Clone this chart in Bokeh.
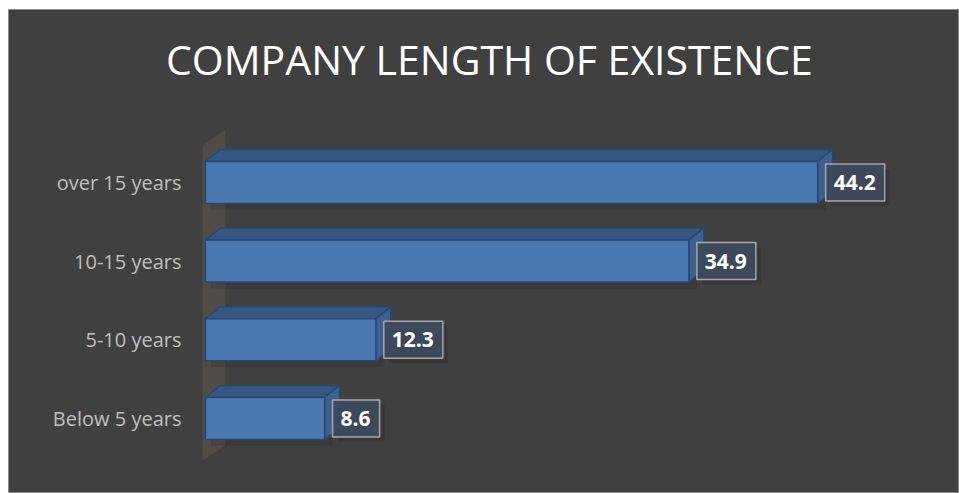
from bokeh.plotting import figure
from bokeh.models import Range1d
from bokeh.core.properties import value
from bokeh.embed import file_html
from bokeh.resources import INLINE

# ---- data ----
categories = ["Below 5 years", "5-10 years", "10-15 years", "over 15 years"]
values = [8.6, 12.3, 34.9, 44.2]
labels = ["8.6", "12.3", "34.9", "44.2"]
title_text = "COMPANY LENGTH OF EXISTENCE"

# ---- style constants ----
BAR_H = 0.534
DX = 1.08     # 3D depth in x (data units)
DY = 0.152    # 3D depth in y (data units)
FRONT = "#4a78b0"
TOP = "#375783"
SIDE = "#3c6090"
EDGE = "#2a4772"
PAD = dict(left=8, right=9, top=11, bottom=11)

p = figure(width=959, height=493, output_backend="svg", toolbar_location=None,
           x_range=Range1d(-14.22, 54.44), y_range=Range1d(-0.953, 5.197),
           x_axis_location=None, y_axis_location=None,
           min_border_left=8, min_border_top=9, min_border_right=0, min_border_bottom=0)
p.grid.visible = False
p.background_fill_color = "#404040"
p.border_fill_color = "white"
p.outline_line_color = "#8c8c8c"
p.outline_line_width = 1

ys = list(range(len(categories)))

# back wall
p.patch(x=[-0.22, -0.22, 1.44, 1.44], y=[-0.534, 3.469, 3.672, -0.343],
        fill_color="#4e4c45", line_color=None)

# shadows of bars
p.hbar(y=[y - 0.08 for y in ys], left=0.4, right=[v + 0.6 for v in values], height=BAR_H,
       fill_color="black", fill_alpha=0.10, line_color=None)

# top faces
top_xs = [[0, v, v + DX, DX] for v in values]
top_ys = [[y + BAR_H / 2, y + BAR_H / 2, y + BAR_H / 2 + DY, y + BAR_H / 2 + DY] for y in ys]
p.patches(xs=top_xs, ys=top_ys, fill_color=TOP, line_color=EDGE, line_width=1.5)

# side faces
side_xs = [[v, v, v + DX, v + DX] for v in values]
side_ys = [[y - BAR_H / 2, y + BAR_H / 2, y + BAR_H / 2 + DY, y - BAR_H / 2 + DY] for y in ys]
p.patches(xs=side_xs, ys=side_ys, fill_color=SIDE, line_color=EDGE, line_width=1.5)

# front faces
p.hbar(y=ys, left=0, right=values, height=BAR_H,
       fill_color=FRONT, line_color=EDGE, line_width=1.5)

# category labels
p.text(x=[-1.73] * len(ys), y=ys, text=categories, text_align="right", text_baseline="middle",
       text_font=value("Open Sans"), text_font_size="20px", text_color="#bfbfbf")

# value label shadows
p.text(x=values, y=ys, text=labels, x_offset=13, y_offset=5,
       text_align="left", text_baseline="middle",
       text_font=value("Open Sans"), text_font_style="bold", text_font_size="21px",
       text_color="#333333", text_alpha=0.0,
       background_fill_color="black", background_fill_alpha=0.12, padding=PAD)

# value labels
p.text(x=values, y=ys, text=labels, x_offset=8,
       text_align="left", text_baseline="middle",
       text_font=value("Open Sans"), text_font_style="bold", text_font_size="21px",
       text_color="white",
       background_fill_color="#3d4a5c", background_fill_alpha=0.95,
       border_line_color="#a6a6a6", border_line_width=1.5, padding=PAD)

# title
p.text(x=[20.5], y=[4.57], text=[title_text], text_align="center", text_baseline="middle",
       text_font=value("Open Sans"), text_font_size="41px", text_color="white")

open("out.html", "w").write(file_html(p, INLINE))
